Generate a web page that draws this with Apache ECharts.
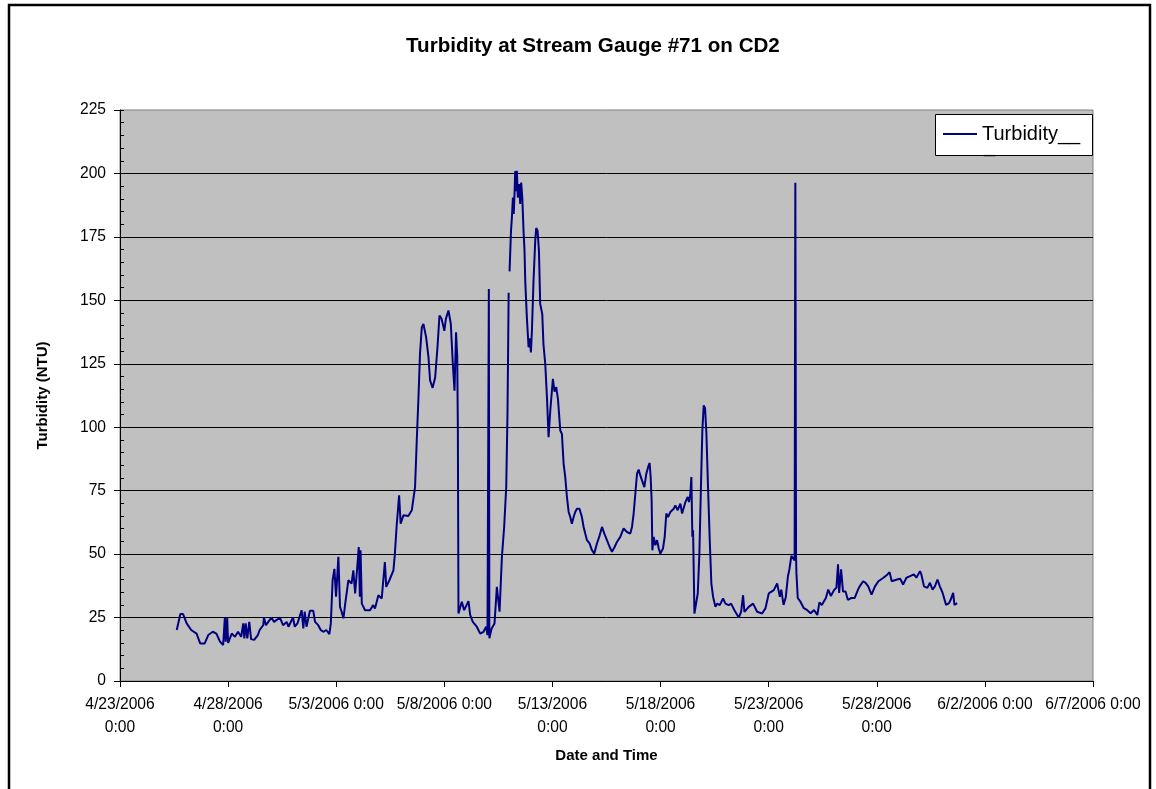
<!DOCTYPE html>
<html>
<head>
<meta charset="utf-8">
<script src="https://cdn.jsdelivr.net/npm/echarts@6/dist/echarts.min.js"></script>
<style>
  html, body { margin: 0; padding: 0; background: #fff; }
  #chart { width: 1156px; height: 789px; }
</style>
</head>
<body>
<div id="chart"></div>
<script>
// x = hours since 4/23/2006 0:00, y = turbidity (NTU)
const lateApril = [
  [63, 20.1], [67, 26.4], [70, 26.4], [74, 22.7], [79, 20.1], [85, 18.7], [89, 14.8], [94, 14.8],
  [98, 18.1], [103, 19.4], [107, 18.7], [109, 19.4], [111, 15.5], [114.5, 14.2], [116.4, 25], [117.3, 15.5],
  [119, 24.8], [120, 15], [124, 18.7], [127.6, 17.4], [131, 19.4], [134.5, 17.4], [136.8, 22.7], [138, 16.8],
  [139.5, 22.7], [141.3, 16.8], [143.5, 23.3], [145.5, 16.5], [149, 16.2], [153, 18.1], [155, 20.1], [159, 22],
  [159.8, 25], [162, 22], [168, 25], [171, 23.3], [177.5, 25], [181, 22], [185, 23.3], [187, 21.4],
  [192, 25], [194, 21.4], [197, 22.7], [201.6, 27.9], [203.5, 20.7], [205, 27.3], [207, 21.4], [210.8, 27.7],
  [214.5, 27.7], [216.5, 23.3], [220, 22], [223, 20], [226, 19.4], [229, 20.1], [232.4, 18.5], [234, 22.7]
];
const earlyMay = [
  [236, 39.7], [238, 44.2], [239.8, 33.2], [242.4, 48.9], [244.2, 29.2], [246, 27.3], [248, 24.7], [250, 30.5],
  [253.5, 39.7], [257, 38.4], [259, 43.6], [261, 34.5], [263.5, 45.6], [265, 52.8], [266.2, 33.2], [267, 51.5],
  [268.4, 30.5], [272, 27.9], [277.5, 27.9], [281, 29.9], [283, 28.6], [286.8, 33.8], [290.5, 32.5], [294, 46.9],
  [295.5, 37.1], [299, 39.7], [303.5, 43.6], [305, 49.6], [307, 60.7], [309.8, 73.2], [311.5, 62], [314.6, 65.3],
  [320, 65], [323.9, 67.3], [327.5, 76.4], [329.4, 94.8], [331.3, 111.8], [333, 128.9], [335, 139.4], [336.8, 140.7],
  [339.8, 135.4], [342.4, 127.6], [344.2, 118.4], [347, 115.5], [349.8, 119.6], [352.4, 131.5], [354.6, 144], [357, 142.7],
  [360, 138], [361.7, 142.7], [364.6, 146], [367.2, 140.7], [369.4, 125], [371.3, 114.4], [373, 137.4], [374.3, 128],
  [375, 100], [375.7, 26.6], [377.5, 26], [379.4, 31.2], [382, 27.9], [384.2, 28.6], [386.8, 31.5], [388.7, 26],
  [391.6, 23.3], [396, 21.4], [399.8, 18.7], [403.5, 19.4], [406.4, 21.4], [407.9, 18.1], [409.4, 154.5], [410, 16.8],
  [412.5, 20.7], [415.7, 22.7], [418.3, 37.1], [421.3, 27.3], [423.9, 48.9], [426.4, 60.7], [428.7, 76.4], [430.1, 105.3],
  [431.4, 153]
];
// logger gap between the two pieces of the 5/11 rise
const gapHour = 431.9;
const midMay = [
  [432.4, 161.4], [434, 177.4], [435, 182.7], [436.1, 190.5], [437, 184], [437.9, 191.9], [438.7, 201], [439.7, 193],
  [440.5, 201], [441.6, 190.5], [443.1, 195.8], [444.2, 188], [445.3, 196.4], [446.6, 190], [447.9, 177.4], [449, 169.6],
  [449.8, 157.7], [451.6, 143.3], [453.5, 131.5], [454.9, 135], [456.1, 129.5], [457.2, 138], [459, 157.7], [460.9, 173.5],
  [462, 178.5], [463.5, 177.4], [465, 169.6], [466.4, 148.6], [468.7, 144.6], [470, 132.8], [472, 125], [473.9, 111.8],
  [475.7, 96.1], [477.6, 106.6], [480.5, 119.1], [482.3, 114], [484.2, 115.8], [486.1, 111.2], [488.7, 98.7], [490.5, 97.4],
  [492.4, 85.6], [494.2, 80.4], [496.1, 72.5], [498, 66.6], [499.8, 64.6], [501.6, 62], [503.5, 64.6], [505.3, 66.6],
  [507.2, 67.9], [510, 67.9], [512.7, 64.6], [514.6, 60.7], [516.4, 58.1], [518.3, 55.5], [521.2, 54.2], [523.9, 51.5],
  [526.4, 50.2], [529.4, 54.2], [532.4, 57.4], [535, 60.7], [537.6, 58.1], [540.5, 55.5], [543.5, 52.8], [546.1, 50.9],
  [549, 52.8], [551.6, 54.8], [555.3, 56.8], [559, 60.1], [562.7, 58.7], [566.4, 58.1], [568.3, 60.7], [570.1, 65.9],
  [572, 73.8], [573.9, 81.7], [575.7, 83.3], [577.5, 81], [579.4, 80.4], [582, 76.4], [584.2, 81.7], [586.8, 85],
  [587.9, 85.9], [589, 80.4], [590.1, 71.2], [590.9, 51.5], [592.4, 56.8], [594.2, 53.5], [596.1, 55.5], [598, 52.2],
  [599.8, 50.2], [602.7, 52.2], [604.6, 56.8], [606.4, 66], [608.3, 64.6], [610.9, 66.6], [614.6, 67.9], [616.4, 69.2],
  [619, 67.3], [622, 69.9], [623.9, 66], [627.6, 70.5], [630.1, 72.5], [631.6, 70.5], [633.1, 73.8], [634.2, 80.4],
  [635.3, 56.8], [636.1, 59.4], [637.6, 26.6], [639.8, 26.6], [641.3, 34.5], [643.1, 50.2], [645, 79.1], [646.4, 98.7],
  [647.9, 108.6], [649.4, 107.5], [650.9, 97.4], [652.7, 76.4], [654.6, 55.5], [656.4, 38.4], [658.3, 33.2], [660.9, 29.2],
  [662.7, 30.5], [665.7, 29.9], [669.4, 32.5], [672, 30.5], [675.7, 29.9], [678.3, 30.5], [682, 27.9], [686.8, 25],
  [689.4, 27.2], [691.6, 33.8], [693.1, 27.2], [697.9, 29.2], [702.7, 30.5], [707.2, 27.3], [712.7, 26.6], [716.4, 28.6],
  [720.1, 34.5], [725.7, 35.8], [729.4, 38.4], [732.4, 33.2]
];
const lateMay = [
  [734, 36], [736.5, 30], [739, 33], [741.4, 41.3], [743, 44], [745.2, 49.3], [747, 50], [748.8, 47.5],
  [749.6, 196.3], [750.4, 49], [750.8, 42.6], [752.3, 32.7], [755, 31.4], [759, 28.7], [762.5, 28], [766.6, 26.7],
  [770.4, 28], [774, 26], [776.3, 31], [779, 29.9], [783.5, 32.7], [786.1, 36], [789, 33.5], [792.9, 36],
  [795.2, 36.7], [797, 46], [798.2, 34.7], [800.4, 44], [802.5, 35.3], [805.3, 35.3], [807.9, 32], [811.8, 32.7],
  [815.4, 32.7], [819.2, 36], [821, 37.3], [824.9, 39.3], [827.6, 38.7], [830.5, 37.3], [834.2, 34], [838, 37.3],
  [841.8, 39.3], [847.4, 40.7], [851.9, 42], [854.2, 42.9], [856.6, 39.3], [862.4, 40], [866, 40.3], [869.2, 38],
  [872.9, 40.7], [877, 41.3], [881.2, 42], [884, 40.7], [888, 43.3], [889.5, 42], [892.4, 37.3], [896.2, 36.7],
  [899, 38.7], [901.9, 36], [904.5, 37.3], [907.4, 40], [910, 37.3], [913.1, 34.7], [916.9, 30], [920.2, 30.7],
  [922, 32], [924.8, 34.7], [926.2, 30], [929.2, 30.7]
];

const tickLabels = [
  '4/23/2006\n0:00', '4/28/2006\n0:00', '5/3/2006 0:00', '5/8/2006 0:00', '5/13/2006\n0:00',
  '5/18/2006\n0:00', '5/23/2006\n0:00', '5/28/2006\n0:00', '6/2/2006 0:00', '6/7/2006 0:00'
];
const tickStepHours = 120; // 5 days
const yTicks = [0, 225, 25];
const yMinorStep = 5;

const font = '"Liberation Sans", Arial, sans-serif';
const seriesData = lateApril.concat(earlyMay, [[gapHour, '-']], midMay, lateMay);

const chart = echarts.init(document.getElementById('chart'), null, { renderer: 'canvas' });

chart.setOption({
  animation: false,
  backgroundColor: '#fff',
  textStyle: { fontFamily: font, color: '#000' },
  title: {
    text: 'Turbidity at Stream Gauge #71 on CD2',
    left: 401,
    top: 31,
    textStyle: { fontFamily: font, fontSize: 20.6, fontWeight: 'bold', color: '#000' }
  },
  legend: {
    left: 938,
    top: 119,
    z: 10,
    itemWidth: 34,
    itemHeight: 14,
    itemGap: 0,
    data: [{ name: 'Turbidity___', icon: 'path://M0,6H34V8H0Z' }],
    formatter: () => 'Turbidity__',
    textStyle: { fontFamily: font, fontSize: 20, color: '#000' }
  },
  graphic: [
    {
      type: 'rect', z: 0, silent: true,
      shape: { x: 9, y: 5, width: 1141, height: 900 },
      style: { fill: 'none', stroke: '#000', lineWidth: 2.5 }
    },
    {
      type: 'rect', z: 5, silent: true,
      shape: { x: 935.5, y: 114.5, width: 157, height: 41 },
      style: { fill: '#fff', stroke: '#000', lineWidth: 1 }
    },
    {
      type: 'text', z: 11, silent: true,
      x: 984, y: 136,
      style: { text: '_', font: '20px ' + font, fill: '#000' }
    }
  ],
  grid: {
    left: 120, right: 63, top: 110, bottom: 108,
    show: true,
    backgroundColor: '#C0C0C0',
    borderColor: '#808080',
    borderWidth: 1
  },
  xAxis: {
    type: 'value',
    min: 0,
    max: tickStepHours * (tickLabels.length - 1),
    interval: tickStepHours,
    name: 'Date and Time',
    nameLocation: 'middle',
    nameGap: 67,
    nameTextStyle: { fontFamily: font, fontSize: 15, fontWeight: 'bold', color: '#000' },
    axisLine: { show: true, onZero: false, lineStyle: { color: '#000', width: 1 } },
    axisTick: { show: true, length: 6, lineStyle: { color: '#000' } },
    axisLabel: {
      margin: 12,
      fontFamily: font, fontSize: 15.6, color: '#000', lineHeight: 23,
      showMinLabel: true, showMaxLabel: true, hideOverlap: false,
      formatter: v => tickLabels[Math.round(v / tickStepHours)]
    },
    splitLine: { show: false }
  },
  yAxis: [
    {
      type: 'value',
      min: yTicks[0],
      max: yTicks[1],
      interval: yTicks[2],
      name: 'Turbidity (NTU)',
      nameLocation: 'middle',
      nameGap: 70,
      nameTextStyle: { fontFamily: font, fontSize: 15, fontWeight: 'bold', color: '#000' },
      axisLine: { show: true, lineStyle: { color: '#000', width: 1 } },
      axisTick: { show: true, length: 6, lineStyle: { color: '#000' } },
      axisLabel: { margin: 14, fontFamily: font, fontSize: 15.6, color: '#000' },
      splitLine: { show: true, showMaxLine: false, lineStyle: { color: '#000', width: 1 } }
    },
    {
      // minor ticks drawn inside the plot area
      type: 'value',
      position: 'left',
      min: yTicks[0],
      max: yTicks[1],
      interval: yMinorStep,
      axisLine: { show: false },
      axisTick: { show: true, inside: true, length: 4, lineStyle: { color: '#000' } },
      axisLabel: { show: false },
      splitLine: { show: false }
    }
  ],
  series: [{
    name: 'Turbidity___',
    type: 'line',
    data: seriesData,
    showSymbol: false,
    symbol: 'none',
    connectNulls: false,
    lineStyle: { color: '#000080', width: 2 },
    itemStyle: { color: '#000080' },
    z: 3
  }]
});
</script>
</body>
</html>
